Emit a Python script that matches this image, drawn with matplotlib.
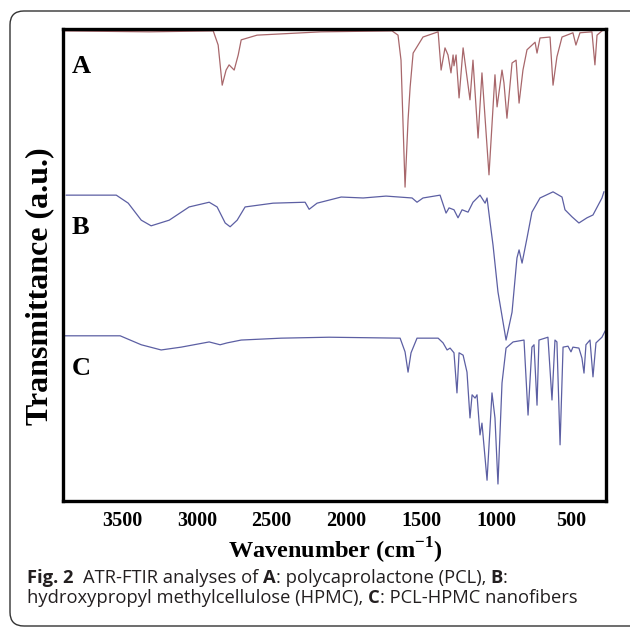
import matplotlib
matplotlib.use("Agg")
import matplotlib.pyplot as plt
from matplotlib.patches import FancyBboxPatch

plt.rcParams['mathtext.fontset'] = 'custom'
plt.rcParams['mathtext.rm'] = 'Liberation Serif'
plt.rcParams['mathtext.bf'] = 'Liberation Serif:bold'

# spectrum A: polycaprolactone (PCL) (a.u., stacked)
wn_a = [3887, 3319, 2891, 2858, 2831, 2805, 2785, 2751, 2724, 2704, 2598, 2170,
        1696, 1656, 1636, 1609, 1589, 1575, 1555, 1489, 1388, 1368, 1342, 1322,
        1302, 1288, 1282, 1268, 1248, 1221, 1175, 1155, 1121, 1095, 1048, 1008,
        994, 961, 948, 928, 894, 867, 847, 821, 794, 740, 727, 707, 640, 620,
        594, 560, 487, 467, 440, 360, 340, 326, 293, 272]
t_a = [99.6, 99.4, 99.6, 96.6, 88.1, 91.3, 92.4, 91.3, 94.5, 97.7, 98.7, 99.4,
       99.6, 98.7, 93.4, 66.5, 80.7, 87.7, 94.9, 98.3, 99.4, 91.3, 96.0, 94.5,
       90.7, 94.5, 92.2, 94.5, 85.4, 96.0, 85.0, 93.4, 76.9, 90.7, 69.1, 90.3,
       83.5, 91.3, 88.6, 81.1, 92.8, 93.4, 84.3, 91.3, 95.6, 97.2, 94.9, 98.1,
       98.3, 88.1, 94.1, 98.3, 99.2, 96.6, 99.2, 99.4, 92.4, 98.7, 99.6, 100.0]

# spectrum B: HPMC
wn_b = [3873, 3539, 3459, 3372, 3306, 3185, 3052, 2918, 2865, 2811, 2778, 2731,
        2678, 2491, 2277, 2250, 2197, 2036, 1889, 1736, 1562, 1529, 1489, 1375,
        1335, 1315, 1282, 1255, 1228, 1188, 1155, 1108, 1074, 1061, 1041, 1021,
        988, 934, 894, 861, 847, 827, 794, 761, 707, 620, 560, 540, 493, 447,
        393, 353, 293, 280]
t_b = [64.8, 64.8, 63.1, 59.5, 58.3, 59.5, 62.3, 63.3, 62.3, 58.9, 58.1, 59.5,
       62.3, 63.1, 63.3, 61.8, 63.1, 64.4, 64.2, 64.6, 64.2, 63.3, 64.2, 64.8,
       61.0, 62.1, 61.7, 60.0, 61.7, 61.2, 63.3, 64.8, 63.1, 64.2, 59.1, 54.2,
       44.3, 34.1, 40.0, 51.5, 53.2, 50.4, 55.7, 61.2, 64.2, 65.5, 64.4, 61.7,
       60.2, 58.9, 60.0, 60.6, 64.2, 65.5]

# spectrum C: PCL-HPMC nanofibers
wn_c = [3887, 3513, 3372, 3239, 3105, 2918, 2845, 2798, 2704, 2437, 2117, 1642,
        1609, 1589, 1569, 1529, 1388, 1355, 1328, 1308, 1282, 1262, 1248, 1221,
        1195, 1175, 1161, 1141, 1128, 1108, 1095, 1061, 1028, 1008, 988, 961,
        934, 887, 814, 787, 761, 747, 727, 714, 654, 627, 607, 594, 573, 553,
        520, 500, 487, 447, 427, 413, 400, 373, 353, 333, 293, 272]
t_c = [35.0, 35.0, 33.1, 32.0, 32.6, 33.7, 33.1, 33.5, 34.1, 34.5, 34.7, 34.5,
       31.6, 27.3, 31.4, 34.5, 34.5, 33.5, 32.0, 32.4, 31.4, 22.9, 31.4, 30.9,
       27.3, 17.6, 22.5, 21.8, 22.5, 14.0, 16.5, 4.4, 22.9, 17.6, 3.6, 25.0,
       32.4, 33.7, 34.1, 18.2, 32.6, 33.1, 20.3, 34.1, 34.7, 21.4, 34.1, 33.7,
       11.9, 32.6, 32.8, 31.6, 32.6, 32.4, 30.3, 27.1, 33.1, 34.1, 26.3, 33.5,
       34.7, 36.0]

series_labels = ['A', 'B', 'C']
label_y = [92, 58, 28]
xticks = [3500, 3000, 2500, 2000, 1500, 1000, 500]

fig = plt.figure(figsize=(6.3, 6.28), dpi=100)
ax = fig.add_axes([63 / 630, 1 - 501 / 628, 543 / 630, 472 / 628])

ax.plot(wn_a, t_a, color='#a8676b', lw=0.9)
ax.plot(wn_b, t_b, color='#5c5fa3', lw=0.9)
ax.plot(wn_c, t_c, color='#5c5fa3', lw=0.9)

for lab, yy in zip(series_labels, label_y):
    ax.text(3835, yy, lab, fontsize=19, fontweight='bold', family='Liberation Serif',
            ha='left', va='center')

ax.set_xlim(3895, 266)
ax.set_ylim(0, 100)
ax.set_xticks(xticks)
ax.set_xticklabels([str(v) for v in xticks], fontsize=14.5, fontweight='bold',
                   family='Liberation Serif')
ax.set_yticks([])
ax.tick_params(axis='x', length=0, pad=7)
for sp in ax.spines.values():
    sp.set_linewidth(2.4)

fig.text(40 / 630, 1 - 286 / 628, 'Transmittance (a.u.)', rotation=90, fontsize=23,
         fontweight='bold', family='Liberation Serif', ha='center', va='center')
fig.text(335 / 630, 1 - 551 / 628, r'Wavenumber (cm$^{\mathbf{-1}}$)', fontsize=17.5,
         fontweight='bold', family='Liberation Serif', ha='center', va='center')

# rounded frame around the whole figure (right side runs off the image)
frame = FancyBboxPatch((10 / 630, 2 / 628), 640 / 630, 615 / 628,
                       boxstyle='round,pad=0,rounding_size=0.022',
                       transform=fig.transFigure, fill=False, edgecolor='#333333',
                       lw=1.0, clip_on=False)
fig.patches.append(frame)

# caption with mixed bold/regular pieces
renderer = fig.canvas.get_renderer()
cap_kw = dict(fontsize=13.2, family='Open Sans', color='#231f20')


def piece_width(s, bold):
    w = []
    for txt in ('x' + s + 'x', 'xx'):
        t = fig.text(0, 0, txt, fontweight='bold' if bold else 'normal', **cap_kw)
        w.append(t.get_window_extent(renderer).width)
        t.remove()
    return (w[0] - w[1]) / fig.bbox.width


def caption_line(x, y, parts):
    for s, bold in parts:
        lead = len(s) - len(s.lstrip())
        x0 = x + (piece_width(' ' * lead, bold) if lead else 0)
        fig.text(x0, y, s.strip(), fontweight='bold' if bold else 'normal',
                 ha='left', va='baseline', **cap_kw)
        x += piece_width(s, bold)


caption_line(27 / 630, 1 - 583 / 628,
             [('Fig. 2', True), ('  ATR-FTIR analyses of ', False), ('A', True),
              (': polycaprolactone (PCL), ', False), ('B', True), (':', False)])
caption_line(27 / 630, 1 - 603 / 628,
             [('hydroxypropyl methylcellulose (HPMC), ', False), ('C', True),
              (': PCL-HPMC nanofibers', False)])

fig.savefig('out.png', dpi=100)
